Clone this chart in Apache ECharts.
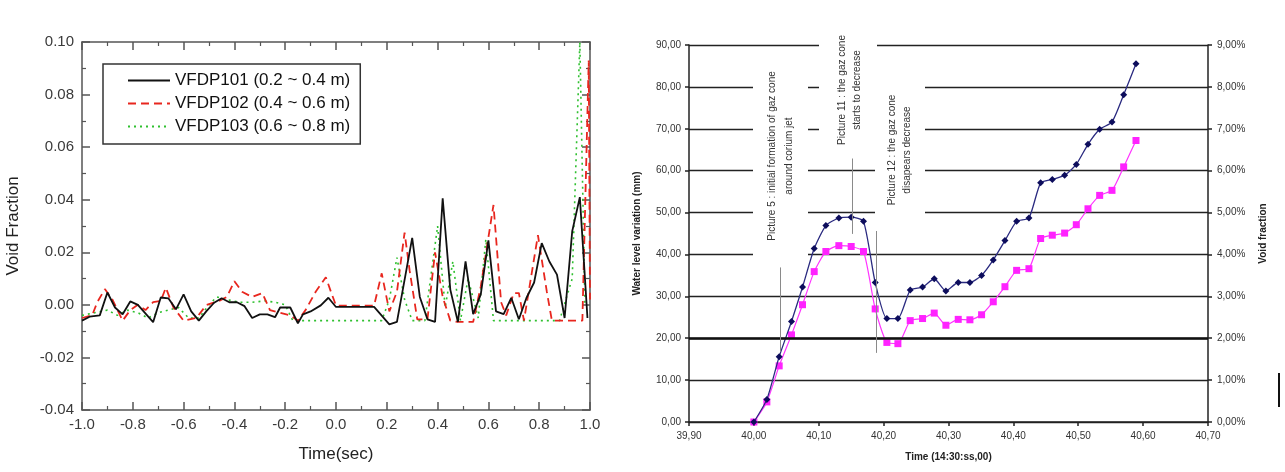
<!DOCTYPE html>
<html><head><meta charset="utf-8">
<script src="https://cdn.jsdelivr.net/npm/echarts@6/dist/echarts.min.js"></script>
<style>html,body{margin:0;padding:0;background:#fff}#c{width:1285px;height:472px}</style>
</head><body><div id="c"></div>
<script>
// ---------- Left chart: void fraction vs time ----------
const legendNames = ['VFDP101 (0.2 ~ 0.4 m)', 'VFDP102 (0.4 ~ 0.6 m)', 'VFDP103 (0.6 ~ 0.8 m)'];
const timeAxisRange = [-1.0, 1.0, 0.2];
const voidAxisRange = [-0.04, 0.10, 0.02];

const t101 = [-1.0,-0.97,-0.93,-0.90,-0.87,-0.84,-0.81,-0.78,-0.72,-0.69,-0.66,-0.63,-0.60,-0.57,-0.54,-0.51,-0.48,-0.45,-0.42,-0.39,-0.36,-0.33,-0.30,-0.27,-0.24,-0.22,-0.18,-0.15,-0.13,-0.10,-0.06,-0.03,0.0,0.15,0.21,0.24,0.30,0.33,0.36,0.39,0.42,0.45,0.48,0.51,0.54,0.57,0.60,0.63,0.66,0.69,0.72,0.75,0.78,0.81,0.84,0.87,0.90,0.93,0.96,0.99];
const v101 = [-0.006,-0.0045,-0.004,0.0047,-0.001,-0.0036,0.0013,0.0,-0.0066,0.0028,0.0025,-0.0017,0.004,-0.0025,-0.006,-0.0024,0.0008,0.0025,0.001,0.001,-0.0005,-0.005,-0.0036,-0.0036,-0.0047,-0.001,-0.001,-0.007,-0.0036,-0.0025,-0.0002,0.0027,-0.0008,-0.0008,-0.0074,-0.0065,0.0255,0.003,-0.0055,-0.0065,0.0405,0.0058,-0.0065,0.0165,-0.0035,0.004,0.0245,-0.0025,-0.0035,0.0027,-0.0055,0.0027,0.0085,0.0235,0.0165,0.0115,-0.005,0.028,0.041,-0.005];

const t102 = [-1.0,-0.96,-0.94,-0.91,-0.88,-0.84,-0.81,-0.78,-0.75,-0.72,-0.69,-0.67,-0.64,-0.60,-0.55,-0.51,-0.46,-0.43,-0.40,-0.37,-0.33,-0.29,-0.26,-0.22,-0.18,-0.15,-0.12,-0.08,-0.04,-0.02,0.0,0.15,0.18,0.21,0.24,0.27,0.29,0.32,0.36,0.39,0.42,0.45,0.48,0.54,0.57,0.62,0.65,0.67,0.70,0.72,0.74,0.795,0.83,0.85,0.93,0.97,0.995,1.0];
const v102 = [-0.005,-0.004,0.001,0.006,0.002,-0.006,-0.002,0.0,-0.002,0.001,0.0015,0.0065,-0.001,-0.006,-0.005,0.0,0.0015,0.003,0.009,0.005,0.003,0.0045,-0.002,-0.003,-0.004,-0.006,-0.002,0.005,0.0105,0.005,-0.0003,-0.0003,0.012,-0.0025,0.005,0.0275,0.013,-0.0055,-0.0055,0.02,0.003,-0.006,-0.0065,-0.0065,0.007,0.038,0.001,-0.004,0.0045,0.0045,-0.006,0.0265,0.005,-0.006,-0.006,-0.006,0.093,0.002];

const t103 = [-1.0,-0.95,-0.90,-0.86,-0.82,-0.78,-0.74,-0.70,-0.66,-0.62,-0.58,-0.54,-0.50,-0.47,-0.43,-0.38,-0.33,-0.28,-0.24,-0.20,-0.17,-0.12,0.15,0.18,0.21,0.24,0.27,0.30,0.35,0.40,0.43,0.46,0.49,0.52,0.56,0.59,0.62,0.70,0.88,0.93,0.96,0.98];
const v103 = [-0.004,-0.003,-0.002,-0.004,-0.002,-0.003,-0.005,-0.003,-0.002,-0.001,-0.005,-0.005,0.0,0.003,0.002,0.001,0.001,0.0015,0.001,0.0,-0.006,-0.006,-0.006,-0.006,0.002,0.018,0.002,-0.006,-0.006,0.03,-0.001,0.0165,-0.006,0.01,-0.005,0.025,-0.006,-0.006,-0.006,0.01,0.1,0.0];

// ---------- Right chart: water level / void fraction ----------
const wlTimes = [40.000,40.020,40.039,40.058,40.075,40.093,40.111,40.131,40.150,40.169,40.187,40.205,40.222,40.241,40.260,40.278,40.296,40.315,40.333,40.351,40.369,40.387,40.405,40.424,40.442,40.460,40.479,40.497,40.515,40.533,40.552,40.570,40.589];
const waterLevel = [0,5.4,15.6,24.0,32.2,41.4,46.9,48.7,48.9,47.9,33.3,24.7,24.7,31.5,32.2,34.2,31.3,33.3,33.3,35.0,38.7,43.3,47.9,48.7,57.1,57.9,58.9,61.5,66.3,69.9,71.6,78.1,85.5];
const voidFraction = [0,4.8,13.4,20.8,28.0,35.9,40.7,42.1,41.9,40.7,27.0,19.0,18.7,24.2,24.7,26.0,23.1,24.5,24.4,25.6,28.7,32.3,36.2,36.6,43.8,44.6,45.1,47.1,50.9,54.1,55.3,60.9,67.2];
const rightXRange = [39.9, 40.7, 0.1];
const rightYRange = [0, 90, 10];
const rightPctRange = [0, 0.09, 0.01];
const boldGridValue = 20;
const annotationTexts = [
  ['Picture 5 : initial formation of gaz cone', 'around corium jet'],
  ['Picture 11 : the gaz cone', 'starts to decrease'],
  ['Picture 12 : the gaz cone', 'disapears decrease']
];
const annotationLines = [
  [[40.040, 36.9], [40.040, 16.8]],
  [[40.151, 62.9], [40.151, 44.9]],
  [[40.188, 45.6], [40.188, 16.5]]
];

const FONT = "'Liberation Sans', Arial, sans-serif";
const zip = (a, b) => a.map((x, i) => [x, b[i]]);

const leftAxisCommon = () => ({
  axisLine: { onZero: false, lineStyle: { color: '#555', width: 1.5 } },
  axisTick: { inside: true, length: 8, lineStyle: { color: '#555', width: 1.5 } },
  minorTick: { show: true, splitNumber: 2, length: 4, lineStyle: { color: '#555', width: 1.2 } },
  splitLine: { show: false }
});

const chart = echarts.init(document.getElementById('c'), null, { renderer: 'canvas' });
const option = {
  backgroundColor: '#fff',
  animation: false,
  textStyle: { fontFamily: FONT },
  grid: [
    { left: 82, top: 42, width: 508, height: 368, containLabel: false, outerBoundsMode: 'none' },
    { left: 689, top: 45, width: 519, height: 377, containLabel: false, outerBoundsMode: 'none' }
  ],
  legend: {
    data: legendNames,
    orient: 'vertical',
    left: 103, top: 64,
    itemWidth: 42, itemHeight: 16, itemGap: 6,
    padding: [8, 10, 9, 24],
    borderColor: '#333', borderWidth: 1.5,
    backgroundColor: '#fff',
    itemStyle: { opacity: 0 },
    textStyle: { fontSize: 17, color: '#111', fontFamily: FONT },
    selectedMode: false
  },
  xAxis: [
    Object.assign({ type: 'value', gridIndex: 0, position: 'bottom', min: timeAxisRange[0], max: timeAxisRange[1], interval: timeAxisRange[2],
      name: 'Time(sec)', nameLocation: 'middle', nameGap: 36,
      nameTextStyle: { fontSize: 17, color: '#222', fontFamily: FONT },
      axisLabel: { fontSize: 15, color: '#3a3a3a', margin: 7, formatter: v => v.toFixed(1) } }, leftAxisCommon()),
    Object.assign({ type: 'value', gridIndex: 0, position: 'top', min: timeAxisRange[0], max: timeAxisRange[1], interval: timeAxisRange[2],
      axisLabel: { show: false } }, leftAxisCommon()),
    { type: 'value', gridIndex: 1, min: rightXRange[0], max: rightXRange[1], interval: rightXRange[2],
      name: 'Time (14:30:ss,00)', nameLocation: 'middle', nameGap: 30,
      nameTextStyle: { fontSize: 10, fontWeight: 'bold', color: '#222', fontFamily: FONT },
      axisLine: { onZero: false, lineStyle: { color: '#222', width: 1.5 } },
      axisTick: { inside: false, length: 4, lineStyle: { color: '#222', width: 1.5 } },
      splitLine: { show: false },
      axisLabel: { fontSize: 10, color: '#333', margin: 9, formatter: v => v.toFixed(2).replace('.', ',') } }
  ],
  yAxis: [
    Object.assign({ type: 'value', gridIndex: 0, position: 'left', min: voidAxisRange[0], max: voidAxisRange[1], interval: voidAxisRange[2],
      name: 'Void Fraction', nameLocation: 'middle', nameGap: 60, nameRotate: 90,
      nameTextStyle: { fontSize: 17, color: '#222', fontFamily: FONT },
      axisLabel: { fontSize: 15, color: '#3a3a3a', margin: 8, formatter: v => v.toFixed(2) } }, leftAxisCommon()),
    Object.assign({ type: 'value', gridIndex: 0, position: 'right', min: voidAxisRange[0], max: voidAxisRange[1], interval: voidAxisRange[2],
      axisLabel: { show: false } }, leftAxisCommon()),
    { type: 'value', gridIndex: 1, position: 'left', min: rightYRange[0], max: rightYRange[1], interval: rightYRange[2],
      name: 'Water level variation (mm)', nameLocation: 'middle', nameGap: 47, nameRotate: 90,
      nameTextStyle: { fontSize: 10, fontWeight: 'bold', color: '#222', fontFamily: FONT },
      axisLine: { show: true, onZero: false, lineStyle: { color: '#222', width: 1.5 } },
      axisTick: { show: true, inside: false, length: 4, lineStyle: { color: '#222', width: 1.5 } },
      splitLine: { show: true, lineStyle: { color: '#222', width: 1.3 } },
      axisLabel: { fontSize: 10, color: '#333', margin: 8, formatter: v => v.toFixed(2).replace('.', ',') } },
    { type: 'value', gridIndex: 1, position: 'right', min: rightPctRange[0], max: rightPctRange[1], interval: rightPctRange[2],
      name: 'Void fraction', nameLocation: 'middle', nameGap: 50, nameRotate: 90,
      nameTextStyle: { fontSize: 10, fontWeight: 'bold', color: '#222', fontFamily: FONT },
      axisLine: { show: true, onZero: false, lineStyle: { color: '#222', width: 1.5 } },
      axisTick: { show: true, inside: false, length: 4, lineStyle: { color: '#222', width: 1.5 } },
      splitLine: { show: false },
      axisLabel: { fontSize: 10, color: '#333', margin: 9, formatter: v => (v * 100).toFixed(2).replace('.', ',') + '%' } }
  ],
  series: [
    { name: legendNames[0], type: 'line', xAxisIndex: 0, yAxisIndex: 0, data: zip(t101, v101), symbol: 'none',
      lineStyle: { color: '#111', width: 1.8, type: 'solid' }, itemStyle: { color: '#111' }, z: 4 },
    { name: legendNames[1], type: 'line', xAxisIndex: 0, yAxisIndex: 0, data: zip(t102, v102), symbol: 'none',
      lineStyle: { color: '#e8261e', width: 1.8, type: [8, 5] }, itemStyle: { color: '#e8261e' }, z: 3 },
    { name: legendNames[2], type: 'line', xAxisIndex: 0, yAxisIndex: 0, data: zip(t103, v103), symbol: 'none',
      lineStyle: { color: '#2fc02f', width: 1.6, type: [2, 4] }, itemStyle: { color: '#2fc02f' }, z: 2 },
    { name: 'Water level', type: 'line', xAxisIndex: 2, yAxisIndex: 2, data: zip(wlTimes, waterLevel),
      smooth: 0.2, symbol: 'diamond', symbolSize: 7,
      lineStyle: { color: '#2a2a80', width: 1.3 }, itemStyle: { color: '#0d0d5c' }, z: 4,
      markLine: { silent: true, symbol: 'none', label: { show: false },
        lineStyle: { color: '#111', width: 2.6, type: 'solid' }, data: [{ yAxis: boldGridValue }] } },
    { name: 'Void fraction', type: 'line', xAxisIndex: 2, yAxisIndex: 2, data: zip(wlTimes, voidFraction),
      smooth: 0.2, symbol: 'rect', symbolSize: 7,
      lineStyle: { color: '#ff33ff', width: 1.2 }, itemStyle: { color: '#ff22ff' }, z: 3,
      markLine: { silent: true, symbol: 'none', label: { show: false },
        lineStyle: { color: '#8a8a8a', width: 1, type: 'solid' },
        data: annotationLines.map(l => [{ coord: l[0] }, { coord: l[1] }]) } }
  ],
  graphic: [
    { type: 'rect', z: 1, shape: { x: 753, y: 60, width: 55, height: 198 }, style: { fill: '#fff' } },
    { type: 'rect', z: 1, shape: { x: 819, y: 20, width: 58, height: 130 }, style: { fill: '#fff' } },
    { type: 'rect', z: 1, shape: { x: 875, y: 66, width: 50, height: 150 }, style: { fill: '#fff' } },
    { type: 'text', z: 5, x: 772, y: 156, rotation: Math.PI / 2, style: { text: annotationTexts[0][0], font: '10px ' + FONT, fill: '#333', align: 'center', verticalAlign: 'middle' } },
    { type: 'text', z: 5, x: 789, y: 156, rotation: Math.PI / 2, style: { text: annotationTexts[0][1], font: '10px ' + FONT, fill: '#333', align: 'center', verticalAlign: 'middle' } },
    { type: 'text', z: 5, x: 842, y: 90, rotation: Math.PI / 2, style: { text: annotationTexts[1][0], font: '10px ' + FONT, fill: '#333', align: 'center', verticalAlign: 'middle' } },
    { type: 'text', z: 5, x: 857, y: 90, rotation: Math.PI / 2, style: { text: annotationTexts[1][1], font: '10px ' + FONT, fill: '#333', align: 'center', verticalAlign: 'middle' } },
    { type: 'text', z: 5, x: 892, y: 150, rotation: Math.PI / 2, style: { text: annotationTexts[2][0], font: '10px ' + FONT, fill: '#333', align: 'center', verticalAlign: 'middle' } },
    { type: 'text', z: 5, x: 907, y: 150, rotation: Math.PI / 2, style: { text: annotationTexts[2][1], font: '10px ' + FONT, fill: '#333', align: 'center', verticalAlign: 'middle' } },
    { type: 'line', z: 5, shape: { x1: 1279, y1: 373, x2: 1279, y2: 407 }, style: { stroke: '#111', lineWidth: 2 } }
  ]
};
chart.setOption(option);
</script>
</body></html>
